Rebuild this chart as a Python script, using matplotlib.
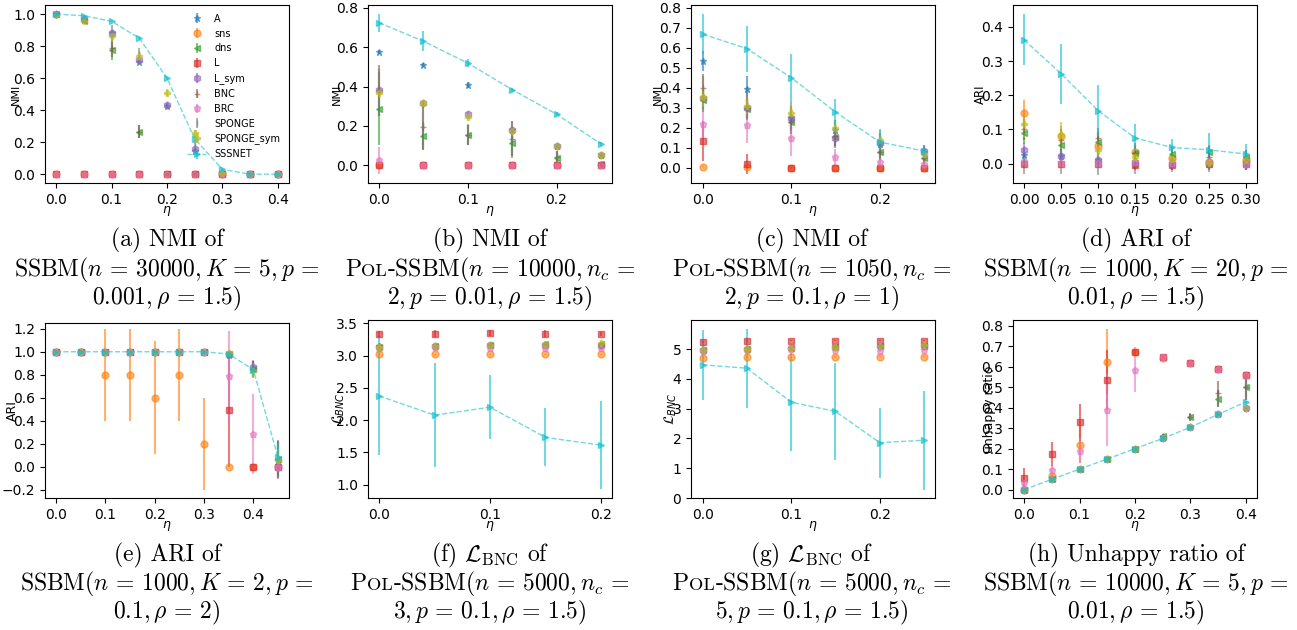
import numpy as np
import matplotlib
matplotlib.use('Agg')
import matplotlib.pyplot as plt

methods = ['A', 'sns', 'dns', 'L', 'L_sym', 'BNC', 'BRC', 'SPONGE', 'SPONGE_sym', 'SSSNET']
markers = ['*', 'o', '<', 's', 'h', '+', 'p', '|', 'P', '>']
colors = ['C%d' % i for i in range(10)]

# (a) NMI, SSBM(n=30000, K=5)
a_eta = [0.0, 0.05, 0.1, 0.15, 0.2, 0.25, 0.3, 0.35, 0.4]
a_mean = [
    [1.0, 0.965, 0.88, 0.70, 0.425, 0.145, 0.0, 0.0, 0.0],
    [0.0, 0.0, 0.0, 0.0, 0.0, 0.0, 0.0, 0.0, 0.0],
    [1.0, 0.96, 0.775, 0.265, 0.0, 0.0, 0.0, 0.0, 0.0],
    [0.0, 0.0, 0.0, 0.0, 0.0, 0.0, 0.0, 0.0, 0.0],
    [1.0, 0.97, 0.885, 0.715, 0.435, 0.155, 0.0, 0.0, 0.0],
    [1.0, 0.965, 0.79, 0.265, 0.0, 0.0, 0.0, 0.0, 0.0],
    [0.0, 0.0, 0.0, 0.0, 0.0, 0.0, 0.0, 0.0, 0.0],
    [1.0, 0.97, 0.88, 0.75, 0.43, 0.18, 0.005, 0.0, 0.0],
    [0.995, 0.96, 0.865, 0.74, 0.51, 0.255, 0.01, 0.0, 0.0],
    [1.0, 0.99, 0.955, 0.85, 0.60, 0.22, 0.03, 0.0, 0.0],
]
a_std = [
    [0.0, 0.005, 0.01, 0.01, 0.01, 0.01, 0.0, 0.0, 0.0],
    [0.0, 0.0, 0.0, 0.0, 0.0, 0.0, 0.0, 0.0, 0.0],
    [0.0, 0.01, 0.06, 0.04, 0.0, 0.0, 0.0, 0.0, 0.0],
    [0.0, 0.0, 0.0, 0.0, 0.0, 0.0, 0.0, 0.0, 0.0],
    [0.0, 0.005, 0.01, 0.01, 0.01, 0.01, 0.0, 0.0, 0.0],
    [0.0, 0.01, 0.06, 0.04, 0.0, 0.0, 0.0, 0.0, 0.0],
    [0.0, 0.0, 0.0, 0.0, 0.0, 0.0, 0.0, 0.0, 0.0],
    [0.0, 0.01, 0.05, 0.04, 0.01, 0.02, 0.0, 0.0, 0.0],
    [0.0, 0.01, 0.04, 0.02, 0.02, 0.02, 0.005, 0.0, 0.0],
    [0.0, 0.005, 0.005, 0.005, 0.01, 0.02, 0.005, 0.0, 0.0],
]

# (b) NMI, Pol-SSBM(n=10000, n_c=2)
b_eta = [0.0, 0.05, 0.1, 0.15, 0.2, 0.25]
b_mean = [
    [0.575, 0.507, 0.41, 0.18, 0.10, 0.05],
    [0.0, 0.0, 0.0, 0.0, 0.0, 0.0],
    [0.288, 0.15, 0.155, 0.113, 0.036, 0.005],
    [0.0, 0.0, 0.0, 0.0, 0.0, 0.0],
    [0.38, 0.315, 0.26, 0.18, 0.10, 0.05],
    [0.38, 0.195, 0.155, 0.135, 0.04, 0.005],
    [0.025, 0.0, 0.0, 0.0, 0.0, 0.0],
    [0.37, 0.20, 0.16, 0.135, 0.04, 0.005],
    [0.365, 0.315, 0.245, 0.175, 0.10, 0.05],
    [0.724, 0.63, 0.519, 0.384, 0.259, 0.109],
]
b_std = [
    [0.01, 0.01, 0.015, 0.01, 0.005, 0.005],
    [0.0, 0.0, 0.0, 0.0, 0.0, 0.0],
    [0.185, 0.07, 0.05, 0.075, 0.035, 0.005],
    [0.0, 0.0, 0.0, 0.0, 0.0, 0.0],
    [0.01, 0.01, 0.01, 0.01, 0.01, 0.005],
    [0.13, 0.11, 0.05, 0.09, 0.035, 0.005],
    [0.07, 0.0, 0.0, 0.0, 0.0, 0.0],
    [0.12, 0.12, 0.05, 0.09, 0.03, 0.005],
    [0.01, 0.01, 0.01, 0.01, 0.005, 0.005],
    [0.045, 0.05, 0.02, 0.01, 0.01, 0.01],
]

# (c) NMI, Pol-SSBM(n=1050, n_c=2)
c_eta = [0.0, 0.05, 0.1, 0.15, 0.2, 0.25]
c_mean = [
    [0.535, 0.395, 0.25, 0.19, 0.12, 0.08],
    [0.005, 0.005, 0.0, 0.0, 0.0, 0.0],
    [0.34, 0.295, 0.23, 0.155, 0.08, 0.05],
    [0.132, 0.02, 0.0, 0.0, 0.0, 0.0],
    [0.35, 0.30, 0.248, 0.148, 0.125, 0.085],
    [0.40, 0.30, 0.23, 0.16, 0.08, 0.05],
    [0.22, 0.213, 0.147, 0.055, 0.03, 0.02],
    [0.37, 0.31, 0.26, 0.18, 0.11, 0.07],
    [0.355, 0.307, 0.273, 0.20, 0.14, 0.07],
    [0.667, 0.595, 0.45, 0.278, 0.128, 0.083],
]
c_std = [
    [0.05, 0.065, 0.06, 0.05, 0.05, 0.03],
    [0.003, 0.003, 0.0, 0.0, 0.0, 0.0],
    [0.05, 0.05, 0.06, 0.05, 0.04, 0.03],
    [0.10, 0.05, 0.005, 0.0, 0.0, 0.0],
    [0.05, 0.05, 0.05, 0.05, 0.05, 0.03],
    [0.07, 0.05, 0.06, 0.05, 0.04, 0.03],
    [0.07, 0.09, 0.09, 0.04, 0.02, 0.01],
    [0.09, 0.07, 0.07, 0.06, 0.06, 0.03],
    [0.05, 0.04, 0.04, 0.04, 0.05, 0.03],
    [0.10, 0.115, 0.12, 0.065, 0.065, 0.03],
]

# (d) ARI, SSBM(n=1000, K=20)
d_eta = [0.0, 0.05, 0.1, 0.15, 0.2, 0.25, 0.3]
d_mean = [
    [0.024, 0.021, 0.01, 0.0, 0.0, 0.0, 0.0],
    [0.148, 0.08, 0.05, 0.033, 0.015, 0.005, 0.01],
    [0.088, 0.055, 0.062, 0.03, 0.027, 0.035, 0.02],
    [0.0, 0.0, 0.0, -0.003, -0.004, 0.0, 0.0],
    [0.04, 0.022, 0.01, 0.005, 0.0, 0.0, 0.0],
    [0.10, 0.07, 0.075, 0.03, 0.01, 0.02, 0.01],
    [0.008, 0.003, 0.003, 0.005, 0.002, 0.008, 0.0],
    [0.005, 0.0, 0.0, 0.0, 0.0, 0.0, 0.0],
    [0.115, 0.083, 0.04, 0.02, 0.013, 0.002, 0.01],
    [0.362, 0.263, 0.155, 0.075, 0.047, 0.04, 0.028],
]
d_std = [
    [0.02, 0.02, 0.02, 0.02, 0.02, 0.02, 0.02],
    [0.038, 0.03, 0.02, 0.02, 0.01, 0.01, 0.01],
    [0.03, 0.03, 0.03, 0.02, 0.02, 0.02, 0.02],
    [0.005, 0.005, 0.005, 0.005, 0.005, 0.005, 0.005],
    [0.02, 0.02, 0.02, 0.02, 0.02, 0.02, 0.02],
    [0.03, 0.03, 0.03, 0.03, 0.03, 0.03, 0.03],
    [0.01, 0.01, 0.01, 0.01, 0.01, 0.01, 0.01],
    [0.035, 0.03, 0.035, 0.03, 0.025, 0.025, 0.02],
    [0.04, 0.04, 0.03, 0.02, 0.015, 0.01, 0.01],
    [0.075, 0.088, 0.075, 0.04, 0.025, 0.048, 0.03],
]

# (e) ARI, SSBM(n=1000, K=2)
e_eta = [0.0, 0.05, 0.1, 0.15, 0.2, 0.25, 0.3, 0.35, 0.4, 0.45]
e_mean = [
    [1.0, 1.0, 1.0, 1.0, 1.0, 1.0, 1.0, 0.97, 0.85, 0.06],
    [1.0, 1.0, 0.8, 0.8, 0.6, 0.8, 0.2, 0.0, 0.0, 0.0],
    [1.0, 1.0, 1.0, 1.0, 1.0, 1.0, 1.0, 0.98, 0.85, 0.07],
    [1.0, 1.0, 1.0, 1.0, 1.0, 1.0, 1.0, 0.49, 0.0, 0.0],
    [1.0, 1.0, 1.0, 1.0, 1.0, 1.0, 1.0, 0.98, 0.87, 0.0],
    [1.0, 1.0, 1.0, 1.0, 1.0, 1.0, 1.0, 0.98, 0.86, 0.06],
    [1.0, 1.0, 1.0, 1.0, 1.0, 1.0, 1.0, 0.79, 0.285, 0.0],
    [1.0, 1.0, 1.0, 1.0, 1.0, 1.0, 1.0, 0.98, 0.85, 0.06],
    [1.0, 1.0, 1.0, 1.0, 1.0, 1.0, 1.0, 0.99, 0.83, 0.055],
    [1.0, 1.0, 1.0, 1.0, 1.0, 1.0, 1.0, 0.98, 0.845, 0.085],
]
e_std = [
    [0.0, 0.0, 0.0, 0.0, 0.0, 0.0, 0.0, 0.02, 0.06, 0.15],
    [0.0, 0.0, 0.4, 0.4, 0.49, 0.4, 0.4, 0.0, 0.0, 0.0],
    [0.0, 0.0, 0.0, 0.0, 0.0, 0.0, 0.0, 0.02, 0.07, 0.15],
    [0.0, 0.0, 0.0, 0.0, 0.0, 0.0, 0.0, 0.49, 0.0, 0.0],
    [0.0, 0.0, 0.0, 0.0, 0.0, 0.0, 0.0, 0.02, 0.05, 0.0],
    [0.0, 0.0, 0.0, 0.0, 0.0, 0.0, 0.0, 0.02, 0.06, 0.16],
    [0.0, 0.0, 0.0, 0.0, 0.0, 0.0, 0.0, 0.39, 0.35, 0.0],
    [0.0, 0.0, 0.0, 0.0, 0.0, 0.0, 0.0, 0.02, 0.08, 0.17],
    [0.0, 0.0, 0.0, 0.0, 0.0, 0.0, 0.0, 0.02, 0.06, 0.10],
    [0.0, 0.0, 0.0, 0.0, 0.0, 0.0, 0.0, 0.02, 0.05, 0.12],
]

# (f) L_BNC, Pol-SSBM(n=5000, n_c=3)
f_eta = [0.0, 0.05, 0.1, 0.15, 0.2]
f_mean = [
    [3.14, 3.15, 3.16, 3.17, 3.17],
    [3.02, 3.02, 3.02, 3.02, 3.02],
    [3.135, 3.15, 3.165, 3.175, 3.185],
    [3.335, 3.34, 3.345, 3.34, 3.34],
    [3.13, 3.14, 3.16, 3.17, 3.17],
    [3.14, 3.15, 3.165, 3.175, 3.15],
    [3.12, 3.13, 3.12, 3.115, 3.11],
    [3.135, 3.15, 3.165, 3.175, 3.185],
    [3.135, 3.15, 3.17, 3.175, 3.19],
    [2.375, 2.077, 2.2, 1.732, 1.613],
]
f_std = [
    [0.02, 0.02, 0.02, 0.02, 0.02],
    [0.01, 0.01, 0.01, 0.01, 0.01],
    [0.02, 0.02, 0.02, 0.02, 0.02],
    [0.05, 0.05, 0.05, 0.05, 0.03],
    [0.02, 0.02, 0.02, 0.02, 0.02],
    [0.02, 0.02, 0.02, 0.02, 0.02],
    [0.02, 0.02, 0.02, 0.02, 0.02],
    [0.02, 0.02, 0.02, 0.02, 0.02],
    [0.02, 0.02, 0.02, 0.02, 0.02],
    [0.92, 0.80, 0.50, 0.45, 0.68],
]

# (g) L_BNC, Pol-SSBM(n=5000, n_c=5)
g_eta = [0.0, 0.05, 0.1, 0.15, 0.2, 0.25]
g_mean = [
    [4.97, 5.02, 5.05, 5.08, 5.11, 5.12],
    [4.72, 4.73, 4.73, 4.74, 4.75, 4.75],
    [4.96, 5.01, 5.04, 5.07, 5.10, 5.12],
    [5.245, 5.28, 5.29, 5.29, 5.29, 5.29],
    [4.97, 5.01, 5.04, 5.07, 5.09, 5.11],
    [4.97, 5.02, 5.05, 5.08, 5.10, 5.12],
    [4.95, 4.98, 5.0, 4.97, 4.95, 4.97],
    [4.96, 5.01, 5.04, 5.07, 5.10, 5.12],
    [4.97, 5.02, 5.05, 5.08, 5.12, 5.13],
    [4.474, 4.36, 3.22, 2.91, 1.86, 1.94],
]
g_std = [
    [0.03, 0.03, 0.03, 0.03, 0.03, 0.03],
    [0.02, 0.02, 0.02, 0.02, 0.02, 0.02],
    [0.03, 0.03, 0.03, 0.03, 0.03, 0.03],
    [0.03, 0.03, 0.03, 0.03, 0.03, 0.03],
    [0.03, 0.03, 0.03, 0.03, 0.03, 0.03],
    [0.03, 0.03, 0.03, 0.03, 0.03, 0.03],
    [0.03, 0.03, 0.03, 0.03, 0.03, 0.03],
    [0.03, 0.03, 0.03, 0.03, 0.03, 0.03],
    [0.03, 0.03, 0.03, 0.03, 0.03, 0.03],
    [1.18, 1.33, 1.65, 1.63, 1.18, 1.66],
]

# (h) unhappy ratio, SSBM(n=10000, K=5)
h_eta = [0.0, 0.05, 0.1, 0.15, 0.2, 0.25, 0.3, 0.35, 0.4]
h_mean = [
    [0.0, 0.05, 0.1, 0.15, 0.2, 0.25, 0.305, 0.37, 0.40],
    [0.0, 0.065, 0.22, 0.625, 0.675, 0.645, 0.62, 0.59, 0.56],
    [0.0, 0.05, 0.1, 0.15, 0.2, 0.26, 0.355, 0.445, 0.50],
    [0.055, 0.175, 0.33, 0.535, 0.675, 0.648, 0.62, 0.59, 0.56],
    [0.0, 0.05, 0.1, 0.15, 0.2, 0.25, 0.305, 0.37, 0.40],
    [0.0, 0.05, 0.1, 0.15, 0.2, 0.26, 0.355, 0.47, 0.50],
    [0.03, 0.095, 0.19, 0.39, 0.585, 0.648, 0.62, 0.59, 0.56],
    [0.0, 0.05, 0.1, 0.15, 0.2, 0.26, 0.355, 0.445, 0.50],
    [0.0, 0.05, 0.1, 0.15, 0.2, 0.25, 0.305, 0.37, 0.397],
    [0.0, 0.05, 0.1, 0.15, 0.2, 0.25, 0.305, 0.368, 0.429],
]
h_std = [
    [0.0, 0.0, 0.0, 0.0, 0.0, 0.005, 0.005, 0.005, 0.005],
    [0.0, 0.01, 0.09, 0.16, 0.01, 0.005, 0.005, 0.005, 0.005],
    [0.0, 0.0, 0.0, 0.0, 0.0, 0.01, 0.015, 0.04, 0.06],
    [0.05, 0.06, 0.09, 0.145, 0.01, 0.005, 0.005, 0.005, 0.005],
    [0.0, 0.0, 0.0, 0.0, 0.0, 0.005, 0.005, 0.005, 0.005],
    [0.0, 0.0, 0.0, 0.0, 0.0, 0.01, 0.02, 0.06, 0.06],
    [0.02, 0.02, 0.06, 0.175, 0.11, 0.005, 0.005, 0.005, 0.005],
    [0.0, 0.0, 0.0, 0.0, 0.0, 0.01, 0.015, 0.04, 0.06],
    [0.0, 0.0, 0.0, 0.0, 0.0, 0.005, 0.005, 0.005, 0.005],
    [0.0, 0.0, 0.0, 0.0, 0.0, 0.005, 0.005, 0.005, 0.005],
]

W, H = 1297, 630
fig = plt.figure(figsize=(W / 100, H / 100), dpi=100)

lefts = [45, 368, 691, 1013]
panels = [
    # eta, mean, std, ylabel, ylabel size, xlim, ylim, yticks, xticks, label x, top px, bottom px
    (a_eta, a_mean, a_std, 'NMI', 8, (-0.02, 0.42), (-0.055, 1.057), np.arange(0, 1.01, 0.2), np.arange(0, 0.41, 0.1), -0.1, 5, 183),
    (b_eta, b_mean, b_std, 'NMI', 8, (-0.0125, 0.2625), (-0.09, 0.814), np.arange(0, 0.81, 0.2), np.arange(0, 0.21, 0.1), -0.107, 5, 183),
    (c_eta, c_mean, c_std, 'NMI', 8, (-0.0132, 0.2625), (-0.077, 0.813), np.arange(0, 0.81, 0.1), np.arange(0, 0.21, 0.1), -0.115, 5, 183),
    (d_eta, d_mean, d_std, 'ARI', 8.5, (-0.015, 0.315), (-0.057, 0.464), np.arange(0, 0.41, 0.1), np.arange(0, 0.31, 0.05), -0.105, 5, 183),
    (e_eta, e_mean, e_std, 'ARI', 9, (-0.0225, 0.4725), (-0.272, 1.25), np.arange(-0.2, 1.21, 0.2), np.arange(0, 0.41, 0.1), -0.108, 323, 498),
    (f_eta, f_mean, f_std, r'$\mathcal{L}_{BNC}$', 10, (-0.01, 0.21), (0.794, 3.55), np.arange(1.0, 3.51, 0.5), np.arange(0, 0.21, 0.1), -0.085, 320, 498),
    (g_eta, g_mean, g_std, r'$\mathcal{L}_{BNC}$', 10, (-0.0132, 0.2625), (0, 5.98), np.arange(0, 5.1, 1), np.arange(0, 0.21, 0.1), -0.048, 320, 498),
    (h_eta, h_mean, h_std, 'unhappy ratio', 9, (-0.02, 0.42), (-0.041, 0.829), np.arange(0, 0.81, 0.1), np.arange(0, 0.41, 0.1), -0.068, 320, 498),
]

for k, (eta, mean, std, ylab, yfs, xl, yl, yt, xt, lx, top, bot) in enumerate(panels):
    left = lefts[k % 4]
    ax = fig.add_axes([left / W, 1 - bot / H, 244 / W, (bot - top) / H])
    for i in range(10):
        ls = '--' if methods[i] == 'SSSNET' else ''
        ax.errorbar(eta, mean[i], yerr=std[i], fmt=markers[i], linestyle=ls,
                    color=colors[i], label=methods[i], alpha=0.6,
                    markersize=5, linewidth=1, elinewidth=1.5)
    ax.set_xlim(*xl)
    ax.set_ylim(*yl)
    ax.set_yticks(yt)
    ax.set_xticks(xt)
    xfmt = '%.2f' if k == 3 else '%.1f'
    yfmt = '%d' if k == 6 else '%.1f'
    ax.set_xticklabels([xfmt % v for v in xt])
    ax.set_yticklabels([(yfmt % v).replace('-', '\u2212') for v in yt])
    ax.tick_params(labelsize=10)
    ax.set_xlabel(r'$\eta$', fontsize=9, labelpad=-2)
    ax.set_ylabel(ylab, fontsize=yfs)
    ax.yaxis.set_label_coords(lx, 0.5)
    if k == 0:
        ax.legend(loc='upper right', frameon=False, fontsize=7)

# captions: Computer Modern look, small caps for "Pol"
fig.canvas.draw()
renderer = fig.canvas.get_renderer()
CFS = 17


def caption_line(xc, ybase, pieces):
    items = []
    total = 0
    for s, fs in pieces:
        t = fig.text(0, 1 - ybase / H, s, fontsize=fs, family='cmr10',
                     math_fontfamily='cm', ha='left', va='baseline')
        w = t.get_window_extent(renderer).width
        items.append((t, w))
        total += w
    x = xc - total / 2
    for t, w in items:
        t.set_x(x / W)
        x += w


def wide(s):
    # a little more room around relations, closer to TeX spacing
    return s.replace('=', r'\,=\,')


def ssbm(s):
    return [('SSBM' + wide(s), CFS)]


def pol(s):
    return [('P', CFS), ('OL', CFS * 0.78), ('-SSBM' + wide(s), CFS)]


centers = [167, 490, 812, 1136]
top_base = [246, 276, 304]
bot_base = [561, 590, 618]
captions = [
    ['(a) NMI of', ssbm(r'$(n=30000,K=5,p=$'), r'$0.001,\rho=1.5)$'],
    ['(b) NMI of', pol(r'$(n=10000,n_c=$'), r'$2,p=0.01,\rho=1.5)$'],
    ['(c) NMI of', pol(r'$(n=1050,n_c=$'), r'$2,p=0.1,\rho=1)$'],
    ['(d) ARI of', ssbm(r'$(n=1000,K=20,p=$'), r'$0.01,\rho=1.5)$'],
    ['(e) ARI of', ssbm(r'$(n=1000,K=2,p=$'), r'$0.1,\rho=2)$'],
    [r'(f) $\mathcal{L}_{\mathrm{BNC}}$ of', pol(r'$(n=5000,n_c=$'), r'$3,p=0.1,\rho=1.5)$'],
    [r'(g) $\mathcal{L}_{\mathrm{BNC}}$ of', pol(r'$(n=5000,n_c=$'), r'$5,p=0.1,\rho=1.5)$'],
    ['(h) Unhappy ratio of', ssbm(r'$(n=10000,K=5,p=$'), r'$0.01,\rho=1.5)$'],
]
for k, (l1, l2, l3) in enumerate(captions):
    base = top_base if k < 4 else bot_base
    xc = centers[k % 4]
    caption_line(xc, base[0], [(l1, CFS)])
    caption_line(xc, base[1], l2)
    caption_line(xc, base[2], [(wide(l3), CFS)])

fig.savefig('out.png', dpi=100)
